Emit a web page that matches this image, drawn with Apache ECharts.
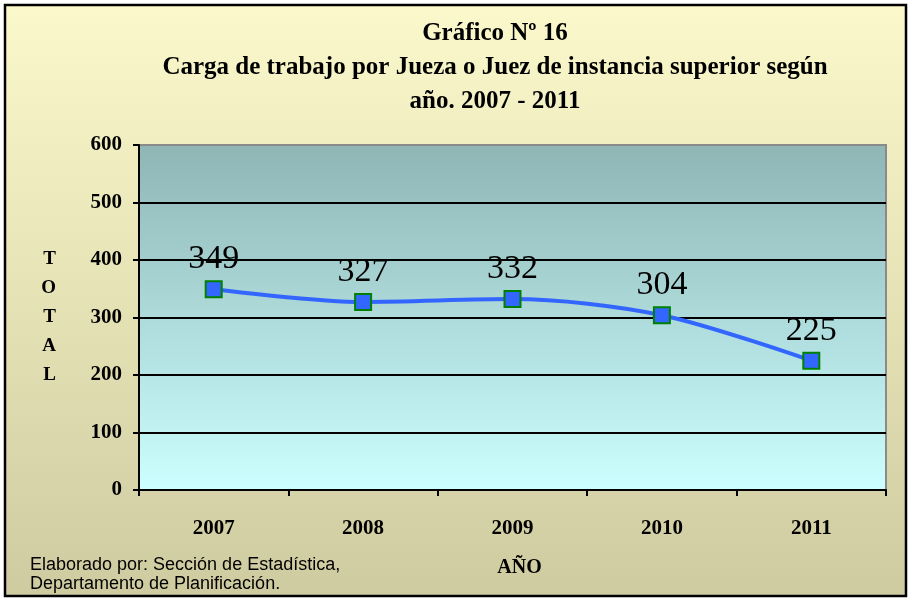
<!DOCTYPE html>
<html>
<head>
<meta charset="utf-8">
<script src="https://cdn.jsdelivr.net/npm/echarts@6/dist/echarts.min.js"></script>
<style>
  html, body { margin: 0; padding: 0; background: #fff; }
  #main { width: 911px; height: 601px; }
</style>
</head>
<body>
<div id="main"></div>
<script>
var years = ['2007', '2008', '2009', '2010', '2011'];   // categorías
var carga = [349, 327, 332, 304, 225];                   // valores
var yTicks = [0, 100, 200, 300, 400, 500, 600];

var chart = echarts.init(document.getElementById('main'));
var serif = '"Liberation Serif", "Times New Roman", serif';

var option = {
    animation: false,
    title: {
        text: 'Gráfico Nº 16\nCarga de trabajo por Jueza o Juez de instancia superior según\naño. 2007 - 2011',
        left: 490,
        top: 12,
        textAlign: 'center',
        textStyle: {
            fontFamily: serif,
            fontWeight: 'bold',
            fontSize: 25,
            lineHeight: 34,
            color: '#000'
        }
    },
    graphic: [
        {
            type: 'rect',
            z: -10,
            shape: { x: 5, y: 5, width: 901, height: 591 },
            style: {
                fill: new echarts.graphic.LinearGradient(0, 0, 0, 1, [
                    { offset: 0, color: '#FBF9CB' },
                    { offset: 1, color: '#CFCBA1' }
                ]),
                stroke: '#000',
                lineWidth: 2.5
            }
        },
        {
            type: 'text',
            left: 30,
            top: 556,
            style: {
                text: 'Elaborado por: Sección de Estadística,\nDepartamento de Planificación.',
                font: '18px "Liberation Sans", Arial, sans-serif',
                lineHeight: 19,
                fill: '#000'
            }
        }
    ],
    grid: {
        left: 139,
        right: 25,
        top: 145,
        bottom: 111,
        show: true,
        backgroundColor: new echarts.graphic.LinearGradient(0, 0, 0, 1, [
            { offset: 0, color: '#8FB5B5' },
            { offset: 1, color: '#CCFFFF' }
        ]),
        borderColor: '#8a8a8a',
        borderWidth: 2
    },
    xAxis: {
        type: 'category',
        data: years,
        boundaryGap: true,
        name: 'AÑO',
        nameLocation: 'middle',
        nameGap: 68,
        nameTextStyle: { fontFamily: serif, fontWeight: 'bold', fontSize: 20, color: '#000', padding: [0, 0, 0, 14] },
        axisLine: { lineStyle: { color: '#000', width: 2 } },
        axisTick: { show: true, inside: false, length: 6, lineStyle: { color: '#000', width: 2 } },
        axisLabel: { margin: 28, fontFamily: serif, fontWeight: 'bold', fontSize: 21, color: '#000' },
        splitLine: { show: false }
    },
    yAxis: {
        type: 'value',
        min: yTicks[0],
        max: yTicks[yTicks.length - 1],
        interval: 100,
        name: 'T\nO\nT\nA\nL',
        nameLocation: 'middle',
        nameRotate: 0,
        nameGap: 83,
        nameTextStyle: { fontFamily: serif, fontWeight: 'bold', fontSize: 19, lineHeight: 29, color: '#000' },
        axisLine: { show: true, lineStyle: { color: '#000', width: 2 } },
        axisTick: { show: true, length: 6, lineStyle: { color: '#000', width: 2 } },
        axisLabel: { margin: 17, fontFamily: serif, fontWeight: 'bold', fontSize: 21, color: '#000' },
        splitLine: {
            show: true,
            lineStyle: {
                color: ['#000', '#000', '#000', '#000', '#000', '#000', '#8a8a8a'],
                width: 2
            }
        }
    },
    series: [
        {
            name: 'Carga',
            type: 'line',
            data: carga,
            smooth: 0.3,
            symbol: 'rect',
            symbolSize: 16,
            lineStyle: { color: '#3366FF', width: 4 },
            itemStyle: { color: '#3366FF', borderColor: '#008000', borderWidth: 2 },
            label: {
                show: true,
                position: 'top',
                distance: 4,
                fontFamily: serif,
                fontSize: 34,
                color: '#000'
            }
        }
    ]
};

chart.setOption(option);
</script>
</body>
</html>
